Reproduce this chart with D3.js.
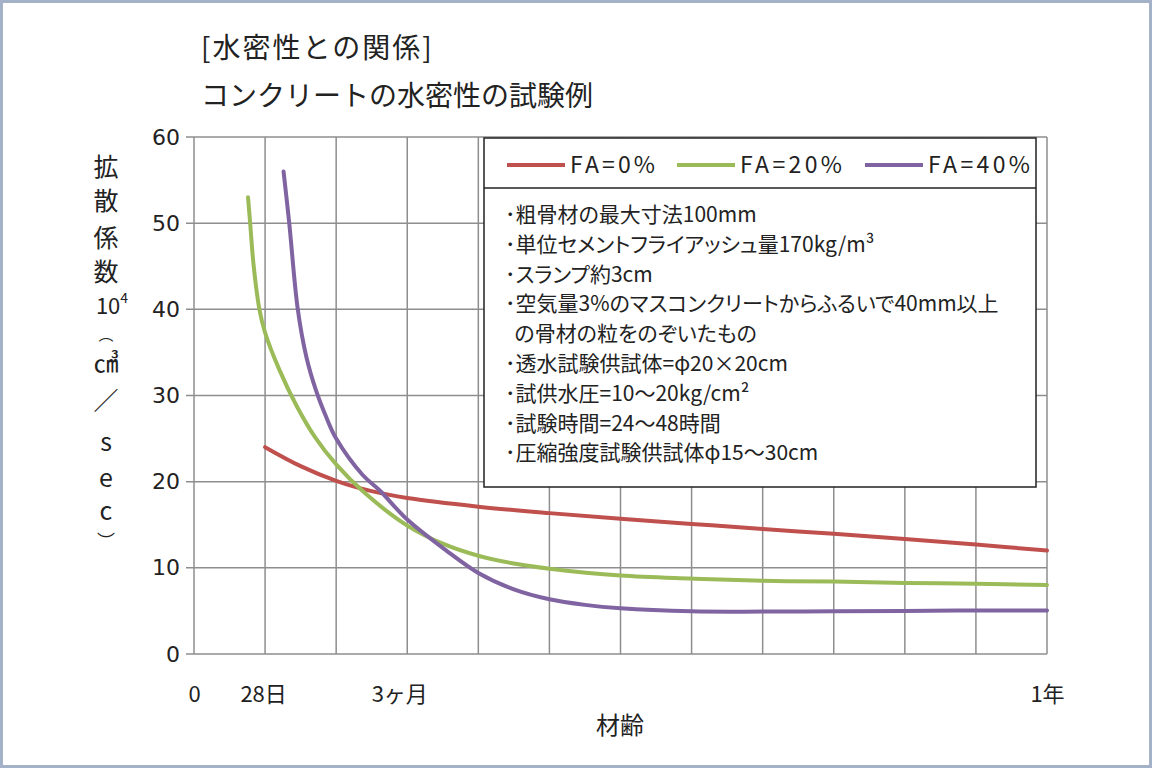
<!DOCTYPE html>
<html>
<head>
<meta charset="utf-8">
<script src="https://cdn.jsdelivr.net/npm/d3@7"></script>
<style>
  body { margin: 0; background: #fff; }
  svg { display: block; }
  .jp { font-family: "Noto Sans CJK JP", sans-serif; fill: #222; }
</style>
</head>
<body>
<div id="container"></div>
<script>
// series: age in months (x) and diffusion coefficient (y)
const fa0Months = [1, 1.5, 2, 2.5, 3, 4, 5, 6, 7, 8, 9, 10, 11, 12];
const fa0Values = [24.0, 21.8, 20.1, 18.9, 18.1, 17.1, 16.35, 15.7, 15.1, 14.5, 13.95, 13.35, 12.7, 12.0];

const fa20Months = [0.76, 0.79, 0.84, 0.92, 1, 1.2, 1.45, 1.7, 2, 2.4, 3, 3.5, 4, 4.5, 5, 6, 7, 8, 9, 10, 11, 12];
const fa20Values = [53, 50, 45, 40, 37.3, 33.0, 28.7, 25.2, 22.0, 18.7, 14.9, 12.8, 11.4, 10.5, 9.9, 9.1, 8.75, 8.5, 8.4, 8.25, 8.15, 8.0];

const fa40Months = [1.26, 1.34, 1.46, 1.58, 1.72, 1.86, 2, 2.37, 2.61, 3, 3.55, 4, 4.5, 5, 5.5, 6, 7, 8, 9, 10, 11, 12];
const fa40Values = [56, 50, 40, 34.5, 30.5, 27.5, 25.0, 20.8, 19.0, 15.6, 12.0, 9.4, 7.5, 6.35, 5.7, 5.3, 4.95, 4.92, 4.95, 5.0, 5.05, 5.05];

const seriesNames = ["FA=0%", "FA=20%", "FA=40%"];
const yTicks = [0, 10, 20, 30, 40, 50, 60];
const xGrid = [0, 1, 2, 3, 4, 5, 6, 7, 8, 9, 10, 11, 12];
const xTickMonths = [0, 1, 3, 12];
const xTickLabels = ["0", "28日", "3ヶ月", "1年"];

const titleLines = ["[水密性との関係]", "コンクリートの水密性の試験例"];
const yTitle = ["拡", "散", "係", "数", "10", "︵", "㎤", "／", "s", "e", "c", "︶"];
const notes = [
  "･粗骨材の最大寸法100mm",
  "･単位セメントフライアッシュ量170kg/m³",
  "･スランプ約3cm",
  "･空気量3%のマスコンクリートからふるいで40mm以上",
  "  の骨材の粒をのぞいたもの",
  "･透水試験供試体=φ20×20cm",
  "･試供水圧=10～20kg/cm²",
  "･試験時間=24～48時間",
  "･圧縮強度試験供試体φ15～30cm"
];

const w = 1152, h = 768;
const plotL = 194, plotR = 1047, plotT = 137, plotB = 654;
const colors = ["#c0504d", "#9bbb59", "#8064a2"];

const series = [
  fa0Months.map((m, i) => [m, fa0Values[i]]),
  fa20Months.map((m, i) => [m, fa20Values[i]]),
  fa40Months.map((m, i) => [m, fa40Values[i]])
];

const x = d3.scaleLinear().domain([0, 12]).range([plotL, plotR]);
const y = d3.scaleLinear().domain([0, 60]).range([plotB, plotT]);

const svg = d3.select("#container").append("svg")
  .attr("width", w).attr("height", h);

svg.append("rect").attr("width", w).attr("height", h).attr("fill", "#fff");
svg.append("rect")
  .attr("x", 1.5).attr("y", 1.5).attr("width", w - 3).attr("height", h - 3)
  .attr("fill", "none").attr("stroke", "#a3b2c7").attr("stroke-width", 3);

// titles
svg.selectAll(".title").data(titleLines).enter().append("text")
  .attr("class", "jp")
  .attr("x", 201).attr("y", (d, i) => 58 + i * 48)
  .attr("font-size", 28)
  .attr("letter-spacing", (d, i) => (i === 0 ? 2 : 0))
  .text(d => d);

// grid
svg.append("g").selectAll("line").data(xGrid).enter().append("line")
  .attr("x1", d => x(d)).attr("x2", d => x(d))
  .attr("y1", plotT).attr("y2", plotB)
  .attr("stroke", "#8e8e8e").attr("stroke-width", 1.5);

svg.append("g").selectAll("line").data(yTicks).enter().append("line")
  .attr("x1", plotL - 8).attr("x2", plotR)
  .attr("y1", d => y(d)).attr("y2", d => y(d))
  .attr("stroke", "#8e8e8e").attr("stroke-width", 1.5);

// y axis labels
const yAxis = d3.axisLeft(y).tickValues(yTicks).tickSize(0).tickPadding(14);
const gy = svg.append("g").attr("transform", "translate(" + plotL + ",0)").call(yAxis);
gy.select(".domain").remove();
gy.selectAll("text")
  .attr("font-family", "DejaVu Sans, sans-serif")
  .attr("font-size", 22).attr("fill", "#222");

// x axis labels
const xAxis = d3.axisBottom(x).tickValues(xTickMonths)
  .tickFormat((d, i) => xTickLabels[i]).tickSize(0).tickPadding(32);
const gx = svg.append("g").attr("transform", "translate(0," + plotB + ")").call(xAxis);
gx.select(".domain").remove();
gx.selectAll("text")
  .attr("font-family", "Noto Sans CJK JP, sans-serif")
  .attr("font-size", 22).attr("fill", "#222")
  .attr("dx", (d, i) => (i === 2 ? -8 : i === 1 ? -2 : 0));

svg.append("text").attr("class", "jp")
  .attr("x", 620).attr("y", 734)
  .attr("text-anchor", "middle").attr("font-size", 24)
  .text("材齢");

// y axis title, stacked vertically
const yTitlePos = [165, 199, 236, 270, 304, 333, 361, 399, 440, 476, 509, 540];
const yTitleSize = [25, 25, 25, 25, 22, 15, 25, 25, 25, 25, 25, 18];
const yt = svg.append("g");
yTitle.forEach((c, i) => {
  const t = yt.append("text").attr("class", "jp")
    .attr("x", 106).attr("y", yTitlePos[i])
    .attr("text-anchor", "middle")
    .attr("dominant-baseline", "central")
    .attr("font-size", yTitleSize[i])
    .text(c);
  if (c === "10") {
    t.attr("x", 112);
    t.append("tspan").attr("font-size", 14).attr("dy", -7).text("4");
  }
});

// lines
const line = d3.line().x(d => x(d[0])).y(d => y(d[1])).curve(d3.curveCatmullRom.alpha(0.5));
svg.append("g").selectAll("path").data(series).enter().append("path")
  .attr("d", line)
  .attr("fill", "none")
  .attr("stroke", (d, i) => colors[i])
  .attr("stroke-width", 4)
  .attr("stroke-linecap", "round");

// legend box with notes
const lg = svg.append("g");
lg.append("rect")
  .attr("x", 484).attr("y", 138).attr("width", 552).attr("height", 349)
  .attr("fill", "#fff").attr("stroke", "#222").attr("stroke-width", 1.5);
lg.append("line")
  .attr("x1", 484).attr("x2", 1036).attr("y1", 188).attr("y2", 188)
  .attr("stroke", "#222").attr("stroke-width", 1.5);

const legX = [507, 677, 865];
seriesNames.forEach((name, i) => {
  lg.append("line")
    .attr("x1", legX[i]).attr("x2", legX[i] + 58)
    .attr("y1", 165).attr("y2", 165)
    .attr("stroke", colors[i]).attr("stroke-width", 4);
  lg.append("text").attr("class", "jp")
    .attr("x", legX[i] + 63).attr("y", 173)
    .attr("font-size", 23)
    .attr("textLength", name.length * 17)
    .attr("lengthAdjust", "spacing")
    .text(name);
});

lg.selectAll(".note").data(notes).enter().append("text")
  .attr("class", "jp")
  .attr("x", 505).attr("y", (d, i) => 222 + i * 29.8)
  .attr("font-size", 21)
  .style("font-feature-settings", "'palt'")
  .style("white-space", "pre")
  .text(d => d);
</script>
</body>
</html>
